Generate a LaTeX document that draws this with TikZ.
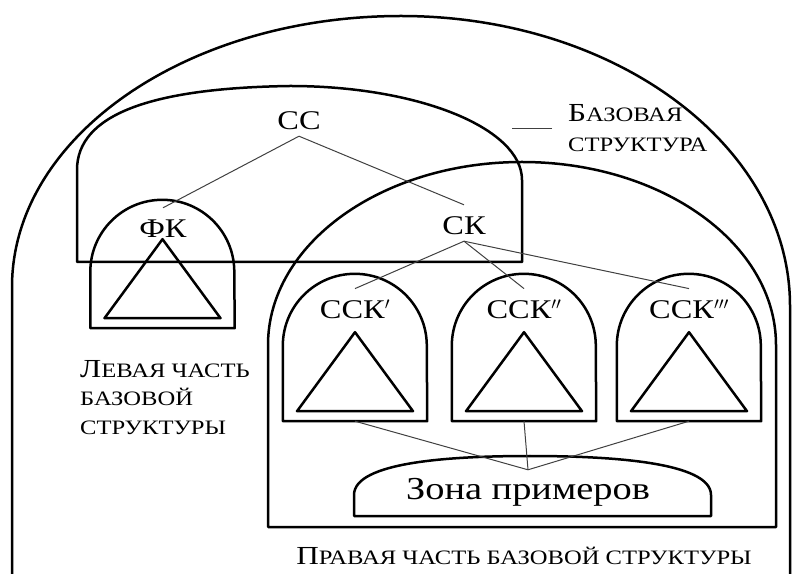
\documentclass[tikz,border=0pt]{standalone}
\usepackage{fontspec}
\setmainfont{Liberation Serif}[FakeStretch=1.2]
\usetikzlibrary{positioning}

\newcommand\smcaps[1]{{\fontsize{20.5}{24}\selectfont #1}}

\tikzset{
  outline/.style={line width=2.5pt, line join=round},
  link/.style={line width=1pt, draw=black!75},
  lbl/.style={inner sep=0pt, anchor=base, text height=30pt, text depth=6pt,
    font=\fontsize{27}{30}\selectfont},
  note/.style={inner sep=0pt, align=left, font=\fontsize{26}{28}\selectfont},
  archbox/.style={
    minimum width=144pt, minimum height=#1, inner sep=0pt,
    append after command={
      \pgfextra{
        \draw[outline] (\tikzlastnode.south west) -- ([yshift=-72pt]\tikzlastnode.north west)
          arc[start angle=180, end angle=0, radius=72pt] -- (\tikzlastnode.south east) -- cycle;
        \draw[outline] ([xshift=-58pt,yshift=10pt]\tikzlastnode.south)
          -- ([xshift=58pt,yshift=10pt]\tikzlastnode.south)
          -- ([yshift=89pt]\tikzlastnode.south) -- cycle;
      }
    }
  }
}

\begin{document}
\begin{tikzpicture}[x=1pt,y=1pt]
  \useasboundingbox (0,0) rectangle (792,573);

  % outer arch, base structure, right part, zone of examples
  \draw[outline] (12,-5) -- (12,286)
    arc[start angle=180, end angle=90, x radius=389, y radius=271]
    arc[start angle=90, end angle=0, x radius=389, y radius=290] -- (790,-5);
  \draw[outline] (77,311) -- (77,403) .. controls (77,458) and (150,485) .. (290,487)
    arc[start angle=90, end angle=0, x radius=232, y radius=94] -- (522,311) -- cycle;
  \draw[outline] (268,46) -- (268,228)
    arc[start angle=180, end angle=0, x radius=254, y radius=183] -- (776,46) -- cycle;
  \draw[outline] (354,57) -- (354,78) .. controls (354,111) and (450,117) .. (530,117)
    .. controls (610,117) and (711,111) .. (711,78) -- (711,57) -- cycle;

  \node[archbox=128pt] (fkbox) at (162.5,309) {};
  \node[archbox=147pt] (box1) at (355,225.5) {};
  \node[archbox=147pt] (box2) at (524,225.5) {};
  \node[archbox=147pt] (box3) at (689,225.5) {};

  \node[lbl] (cc) at (299,443) {СС};
  \node[lbl] (fk) at (163,335) {ФК};
  \node[lbl] (ck) at (464,338) {СК};
  \node[lbl] (ssk1) at ([yshift=-45pt]box1.north) {ССК$'$};
  \node[lbl] (ssk2) at ([yshift=-45pt]box2.north) {ССК$''$};
  \node[lbl] (ssk3) at ([yshift=-45pt]box3.north) {ССК$'''$};
  \node[lbl, text height=29pt, font=\fontsize{32}{34}\selectfont] (zone) at (528,74) {Зона примеров};

  \draw[link] (cc.south) -- (fk.north);
  \draw[link] (cc.south) -- (ck.north);
  \foreach \n in {ssk1,ssk2,ssk3}
    \draw[link] (ck.south) -- (\n.north);
  \foreach \n in {box1,box2,box3}
    \draw[link] (\n.south) -- (zone.north);

  \node[note, anchor=base west, font=\fontsize{26}{30}\selectfont] (basepart) at (568,421)
    {Б\smcaps{АЗОВАЯ}\\ \smcaps{СТРУКТУРА}};
  \draw[link] ([xshift=-16pt]basepart.west) -- ++(-40pt,0);
  \node[note, anchor=base west] (leftpart) at (80,139)
    {Л\smcaps{ЕВАЯ ЧАСТЬ}\\ \smcaps{БАЗОВОЙ}\\ \smcaps{СТРУКТУРЫ}};
  \node[note, anchor=base] (rightpart) at (524,9)
    {П\smcaps{РАВАЯ ЧАСТЬ БАЗОВОЙ СТРУКТУРЫ}};
\end{tikzpicture}
\end{document}
